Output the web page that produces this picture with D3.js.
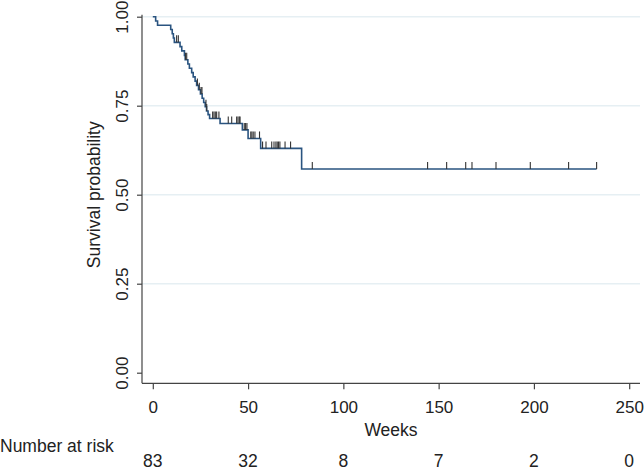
<!DOCTYPE html>
<html>
<head>
<meta charset="utf-8">
<script src="https://cdn.jsdelivr.net/npm/d3@7"></script>
<style>
  html, body { margin: 0; padding: 0; background: #fff; }
  svg { display: block; font-family: "Liberation Sans", Arial, sans-serif; }
</style>
</head>
<body>
<svg id="chart" width="644" height="472"></svg>
<script>
// ---- data ----
const eventTimes = [1.5, 2.5, 9.4, 10.2, 10.8, 11.3, 14.3, 15.2, 16.6, 17.0, 18.4, 19.2, 20.4, 21.2, 22.2, 23.0, 24.0, 25.0, 25.9, 26.7, 27.5, 28.2, 29.0, 29.8, 35.3, 47.0, 50.0, 56.6, 78.1];
const survAfter  = [0.988, 0.976, 0.964, 0.952, 0.940, 0.928, 0.916, 0.904, 0.891, 0.879, 0.867, 0.855, 0.843, 0.831, 0.819, 0.807, 0.795, 0.783, 0.771, 0.759, 0.747, 0.735, 0.725, 0.714, 0.700, 0.682, 0.658, 0.630, 0.572];
const censorTimes = [12.5, 13.4, 17.2, 17.8, 23.4, 24.4, 25.3, 25.8, 27.9, 28.3, 31.4, 32.1, 32.8, 33.5, 34.7, 39.6, 41.4, 44.0, 44.7, 45.4, 45.8, 48.0, 48.7, 49.4, 51.4, 52.0, 52.7, 53.6, 56.0, 57.6, 59.4, 62.4, 63.6, 64.6, 65.3, 66.0, 66.7, 69.4, 72.3, 83.7, 144.2, 154.2, 164.2, 167.5, 180.1, 198.1, 218.2, 232.9];
const lastTime = 232.9;
const xTicks = [0, 50, 100, 150, 200, 250];
const yTicks = [0, 0.25, 0.5, 0.75, 1];
const riskTimes = [0, 50, 100, 150, 200, 250];
const atRisk = [83, 32, 8, 7, 2, 0];

// ---- scales ----
const x = d3.scaleLinear().domain([0, 250]).range([152.8, 629.2]);
const y = d3.scaleLinear().domain([0, 1]).range([372.7, 16.7]);
const svg = d3.select("#chart");
const axisY0 = 383.3, axisX0 = 142;
const txt = "#222";

function survAt(t) {
  let s = 1;
  for (let i = 0; i < eventTimes.length; i++) if (eventTimes[i] <= t) s = survAfter[i];
  return s;
}

// gridlines
svg.append("g").selectAll("line").data(yTicks.filter(d => d > 0)).join("line")
  .attr("x1", axisX0).attr("x2", 640)
  .attr("y1", d => y(d)).attr("y2", d => y(d))
  .attr("stroke", "#e6eff3").attr("stroke-width", 1.6);

// y axis
const yAxis = d3.axisLeft(y).tickValues(yTicks).tickFormat(d3.format(".2f")).tickSize(5);
const gy = svg.append("g").attr("transform", `translate(${axisX0},0)`).call(yAxis);
gy.select(".domain").attr("d", `M0,${y(1) - 2}V${axisY0}`).attr("stroke", "#444").attr("stroke-width", 1.2);
gy.selectAll(".tick line").attr("stroke", "#444").attr("stroke-width", 1.2);
gy.selectAll(".tick text")
  .attr("font-size", 17).attr("fill", txt)
  .attr("text-anchor", "middle")
  .attr("transform", "translate(-20,0) rotate(-90)")
  .attr("x", 0).attr("y", 0).attr("dy", "0.35em");

// x axis
const xAxis = d3.axisBottom(x).tickValues(xTicks).tickSize(6).tickPadding(12);
const gx = svg.append("g").attr("transform", `translate(0,${axisY0})`).call(xAxis);
gx.select(".domain").attr("d", `M${axisX0},0H640`).attr("stroke", "#444").attr("stroke-width", 1.2);
gx.selectAll(".tick line").attr("stroke", "#444").attr("stroke-width", 1.2);
gx.selectAll(".tick text").attr("font-size", 17).attr("fill", txt);

// axis titles
svg.append("text").attr("x", x(125)).attr("y", 436).attr("text-anchor", "middle")
  .attr("font-size", 17.5).attr("fill", txt).text("Weeks");
svg.append("text").attr("transform", `translate(100,${y(0.5)}) rotate(-90)`).attr("text-anchor", "middle")
  .attr("font-size", 17.5).attr("fill", txt).text("Survival probability");

// number at risk
svg.append("text").attr("x", 0).attr("y", 452).attr("font-size", 17.5).attr("fill", txt).text("Number at risk");
svg.append("g").selectAll("text").data(riskTimes).join("text")
  .attr("x", d => x(d)).attr("y", 467).attr("text-anchor", "middle")
  .attr("font-size", 17.5).attr("fill", txt).text((d, i) => atRisk[i]);

// KM step curve
const pts = [[0, 1]];
eventTimes.forEach((t, i) => pts.push([t, survAfter[i]]));
pts.push([lastTime, survAfter[survAfter.length - 1]]);
const line = d3.line().x(d => x(d[0])).y(d => y(d[1])).curve(d3.curveStepAfter);
svg.append("path").datum(pts).attr("d", line)
  .attr("fill", "none").attr("stroke", "#2a5480").attr("stroke-width", 1.6);

// censor marks
svg.append("g").selectAll("line").data(censorTimes).join("line")
  .attr("x1", d => x(d)).attr("x2", d => x(d))
  .attr("y1", d => y(survAt(d))).attr("y2", d => y(survAt(d)) - 7)
  .attr("stroke", "#333").attr("stroke-width", 1.1);
</script>
</body>
</html>
